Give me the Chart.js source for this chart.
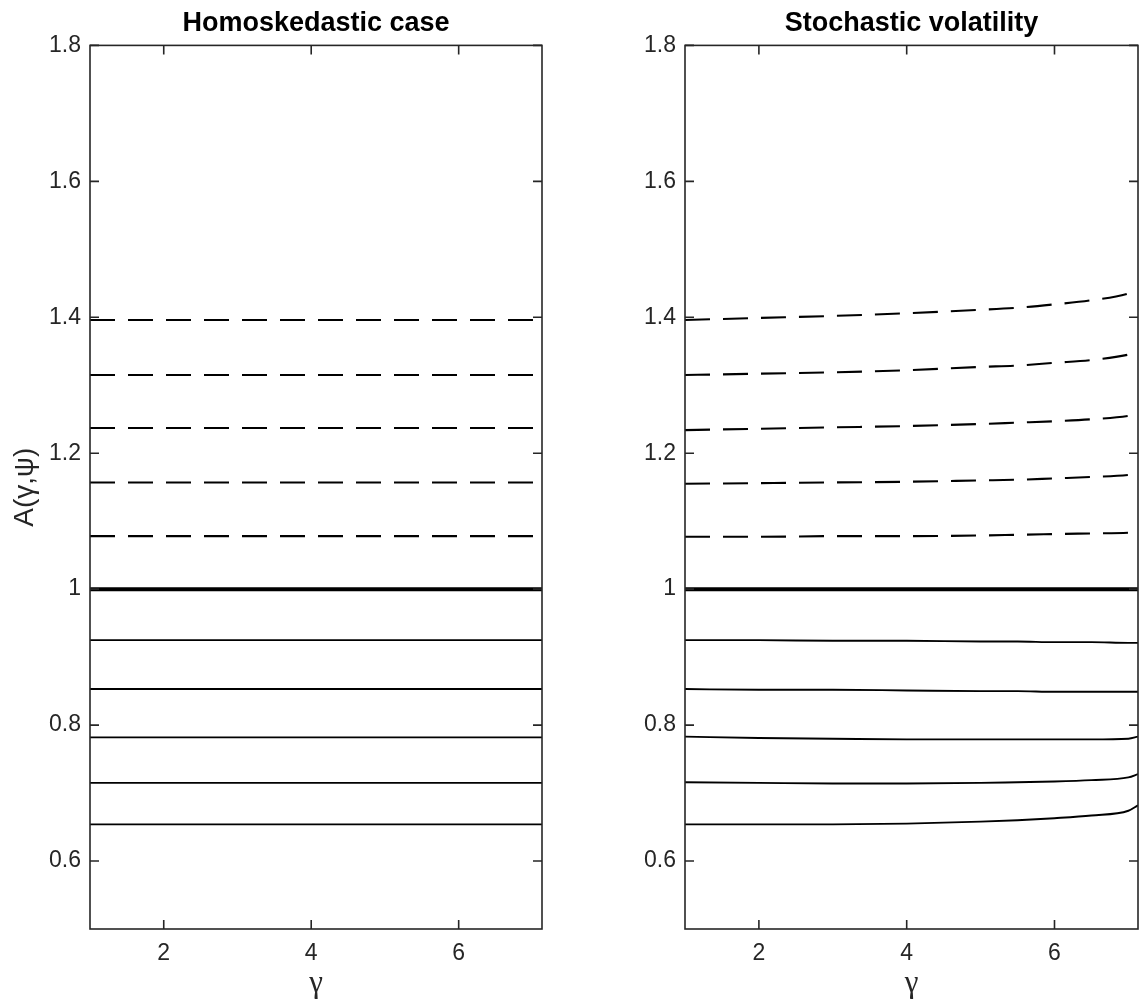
<!DOCTYPE html>
<html>
<head>
<meta charset="utf-8">
<script src="https://cdn.jsdelivr.net/npm/chart.js@4.4.1/dist/chart.umd.min.js"></script>
<style>
  html, body { margin: 0; padding: 0; background: #fff; }
  #wrap { position: relative; width: 1140px; height: 1002px; }
  canvas { position: absolute; top: 0; }
</style>
</head>
<body>
<div id="wrap">
  <canvas id="homo" width="560" height="1002" style="left:0"></canvas>
  <canvas id="stoch" width="545" height="1002" style="left:595px"></canvas>
</div>
<script>
// axis ticks
const yTicks = [0.6, 0.8, 1, 1.2, 1.4, 1.6, 1.8];
const xTicks = [2, 4, 6];
const gammaRange = [1, 7.13];

// homoskedastic case: A does not depend on gamma
const homoLevels = [0.654, 0.715, 0.782, 0.853, 0.925, 1, 1.078, 1.157, 1.237, 1.315, 1.396];

// stochastic volatility
const gammaSV = [1, 2, 3, 4, 5, 5.5, 6, 6.5, 7, 7.13];
const svA = [0.654, 0.654, 0.654, 0.655, 0.658, 0.660, 0.663, 0.667, 0.674, 0.682];
const svB = [0.716, 0.715, 0.714, 0.714, 0.715, 0.716, 0.717, 0.719, 0.723, 0.728];
const svC = [0.783, 0.781, 0.780, 0.779, 0.779, 0.779, 0.779, 0.779, 0.780, 0.783];
const svD = [0.853, 0.852, 0.852, 0.851, 0.850, 0.850, 0.849, 0.849, 0.849, 0.849];
const svE = [0.925, 0.925, 0.924, 0.924, 0.923, 0.923, 0.922, 0.922, 0.921, 0.921];
const svF = [1, 1, 1, 1, 1, 1, 1, 1, 1, 1];
const svG = [1.077, 1.077, 1.078, 1.078, 1.079, 1.080, 1.081, 1.082, 1.083, 1.084];
const svH = [1.155, 1.156, 1.157, 1.158, 1.160, 1.161, 1.163, 1.165, 1.168, 1.170];
const svI = [1.234, 1.236, 1.238, 1.240, 1.243, 1.245, 1.247, 1.250, 1.255, 1.258];
const svJ = [1.315, 1.317, 1.319, 1.322, 1.327, 1.329, 1.333, 1.337, 1.345, 1.349];
const svK = [1.396, 1.399, 1.402, 1.406, 1.411, 1.414, 1.419, 1.425, 1.435, 1.441];
const svSeries = [svA, svB, svC, svD, svE, svF, svG, svH, svI, svJ, svK];

const AXIS_COLOR = '#262626';
const TICK_FONT = { family: 'Liberation Sans', size: 23 };

// style depends on whether the level sits below, at or above 1
function lineStyle(level) {
  if (level > 1) return { borderWidth: 2.1, borderDash: [25, 13] };
  if (level === 1) return { borderWidth: 4, borderDash: [] };
  return { borderWidth: 1.9, borderDash: [] };
}

// box round the plot with inward ticks on all four sides
const framePlugin = {
  id: 'frame',
  afterDatasetsDraw(chart) {
    const { ctx, chartArea: a, scales: { x, y } } = chart;
    const len = 9;
    ctx.save();
    ctx.strokeStyle = AXIS_COLOR;
    ctx.lineWidth = 1.6;
    ctx.strokeRect(a.left, a.top, a.right - a.left, a.bottom - a.top);
    ctx.beginPath();
    x.ticks.forEach(t => {
      const px = x.getPixelForValue(t.value);
      ctx.moveTo(px, a.bottom); ctx.lineTo(px, a.bottom - len);
      ctx.moveTo(px, a.top); ctx.lineTo(px, a.top + len);
    });
    y.ticks.forEach(t => {
      const py = y.getPixelForValue(t.value);
      ctx.moveTo(a.left, py); ctx.lineTo(a.left + len, py);
      ctx.moveTo(a.right, py); ctx.lineTo(a.right - len, py);
    });
    ctx.stroke();
    ctx.restore();
  }
};

function makeChart(id, datasets, title, yTitle, padRight) {
  return new Chart(document.getElementById(id), {
    type: 'line',
    data: { datasets },
    plugins: [framePlugin],
    options: {
      responsive: false,
      animation: false,
      devicePixelRatio: 1,
      layout: { padding: { left: 0, right: padRight, top: 0, bottom: 0 } },
      elements: { point: { radius: 0 }, line: { borderColor: '#000', fill: false } },
      plugins: {
        legend: { display: false },
        tooltip: { enabled: false },
        title: {
          display: true,
          text: title,
          fullSize: false,
          color: '#000',
          font: { family: 'Liberation Sans', size: 27, weight: 'bold' },
          padding: { top: 7, bottom: 6 }
        }
      },
      scales: {
        x: {
          type: 'linear',
          min: gammaRange[0],
          max: gammaRange[1],
          afterBuildTicks: s => { s.ticks = xTicks.map(v => ({ value: v })); },
          afterFit: s => { s.height = 73; },
          grid: { display: false, drawTicks: false },
          border: { display: false },
          ticks: { color: AXIS_COLOR, font: TICK_FONT, padding: 11, callback: v => String(v) },
          title: {
            display: true,
            text: 'γ',
            color: AXIS_COLOR,
            font: { family: 'Liberation Serif', size: 31 },
            padding: { top: 0, bottom: 0 }
          }
        },
        y: {
          type: 'linear',
          min: 0.5,
          max: 1.8,
          afterBuildTicks: s => { s.ticks = yTicks.map(v => ({ value: v })); },
          afterFit: s => { s.width = 90; },
          grid: { display: false, drawTicks: false },
          border: { display: false },
          ticks: { color: AXIS_COLOR, font: TICK_FONT, padding: 9, callback: v => String(v) },
          title: {
            display: !!yTitle,
            text: yTitle,
            color: AXIS_COLOR,
            font: { family: 'Liberation Sans', size: 28 },
            padding: { top: 8, bottom: 0 }
          }
        }
      }
    }
  });
}

const homoSets = homoLevels.map(v => Object.assign({
  data: gammaRange.map(g => ({ x: g, y: v })),
  borderColor: '#000'
}, lineStyle(v)));

const stochSets = svSeries.map(arr => Object.assign({
  data: gammaSV.map((g, i) => ({ x: g, y: arr[i] })),
  borderColor: '#000',
  cubicInterpolationMode: 'monotone'
}, lineStyle(arr[0])));

makeChart('homo', homoSets, 'Homoskedastic case', 'A(γ,ψ)', 18);
makeChart('stoch', stochSets, 'Stochastic volatility', '', 2);
</script>
</body>
</html>
